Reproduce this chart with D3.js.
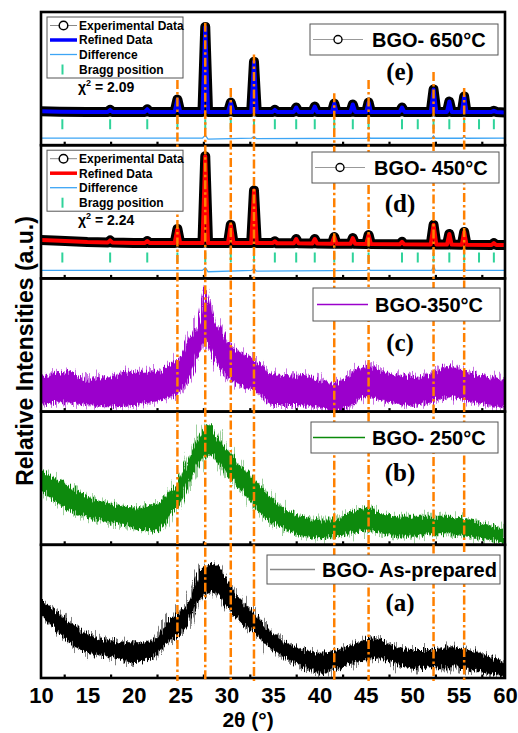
<!DOCTYPE html>
<html>
<head>
<meta charset="utf-8">
<script src="https://cdn.jsdelivr.net/npm/d3@7"></script>
<style>
    body { margin: 0; background: #fff; }
    svg { display: block; font-family: "Liberation Sans", Arial, sans-serif; }
</style>
</head>
<body>
<div id="chart"></div>
<script>
// ---- data ----
const majorTicks = [10, 15, 20, 25, 30, 35, 40, 45, 50, 55, 60];
const minorTicks = [12.5, 17.5, 22.5, 27.5, 32.5, 37.5, 42.5, 47.5, 52.5, 57.5];

// reference (dash-dot) lines and where they start in the top panel
const refLines = [24.7, 27.7, 30.45, 32.95, 41.6, 45.3, 52.3, 55.6];
const refLineTop = [49, 92, 43, 68, 39, 49, 55, 43];

// Bragg positions
const braggPos = [12.3, 17.45, 21.45, 24.7, 27.7, 30.45, 32.95, 35.2, 37.5, 39.5, 41.6,
    43.6, 45.3, 48.9, 50.6, 52.3, 54.0, 55.6, 57.2, 58.8];

// Rietveld profiles (650 and 450 C), intensity in a.u. (0-100 per panel)
const profileX = [10, 12, 15, 17.2, 17.45, 17.7, 20, 21.2, 21.45, 21.7, 24.4, 24.7, 25.0,
    27.4, 27.7, 28.0, 30.15, 30.45, 30.75, 32.65, 32.95, 33.25, 34.95, 35.2, 35.45,
    37.25, 37.5, 37.75, 39.25, 39.5, 39.75, 41.35, 41.6, 41.85, 43.35, 43.6, 43.85,
    45.05, 45.3, 45.55, 48.65, 48.9, 49.15, 52.0, 52.3, 52.6, 53.75, 54.0, 54.25,
    55.35, 55.6, 55.85, 58.55, 58.8, 59.05, 60];
const profile650 = [25.5, 25.2, 25, 25, 26.5, 25, 25, 25, 27, 25, 25, 34.3, 25,
    25, 88.8, 25, 25, 32, 25, 25, 62.7, 25, 25, 26.5, 25,
    25, 28.3, 25, 25, 29, 25, 25, 31.3, 25, 25, 30.6, 25,
    25, 32.1, 25, 25, 28.3, 25, 25, 41.8, 25, 25, 32.8, 25,
    25, 36.6, 25, 25, 25.8, 25, 24.6];
const profile450 = [28.8, 28.2, 27.3, 27, 28.5, 27, 26.5, 26.5, 28, 26.5, 26.5, 37.1, 26.5,
    26.5, 91.7, 26.5, 26.5, 40.2, 26.5, 26.5, 66, 26.5, 26.5, 27.8, 26.3,
    26.3, 29.6, 26.3, 26.2, 29.6, 26.2, 26, 31.1, 26, 26, 30.3, 26,
    25.8, 32.6, 25.8, 25.6, 27.5, 25.6, 25.5, 40.2, 25.5, 25.4, 33.4, 25.4,
    25.3, 34.9, 25.3, 25.1, 26.5, 25.1, 25];

const diffX = [10, 27.4, 27.7, 28.0, 32.7, 32.95, 33.2, 45.1, 45.3, 45.5, 52.1, 52.3, 52.5,
    55.4, 55.6, 55.8, 60];
const diff650 = [5.3, 5.3, 7.5, 4.5, 5.3, 6.5, 5, 5.2, 6.3, 5.2, 5.2, 7, 5.2, 5.2, 6.5, 5.2, 5.3];
const diff450 = [6, 6, 8, 5, 6, 7.5, 5.5, 6, 7, 6, 6, 9, 6, 6, 7, 6, 6];

// amorphous patterns: lower / upper edge of the noisy trace
const x350 = [10, 12.5, 15, 17.5, 20, 22.5, 24, 25, 26, 27, 27.7, 28.5, 29.5, 30.5, 32, 33,
    35, 37.5, 40, 41.5, 43, 45, 47, 50, 52, 54, 56, 58, 60];
const hi350 = [26, 30, 24, 26, 30, 30, 36, 41, 56, 69, 93, 72, 60, 49, 43, 39,
    28, 27, 24, 21, 26, 34, 30, 26, 28, 34, 30, 26, 24];
const lo350 = [5, 7, 5, 4, 5, 8, 11, 15, 26, 43, 53, 41, 31, 24, 18, 16,
    5, 5, 3, 1, 3, 11, 8, 5, 7, 11, 8, 5, 3];

const x250 = [10, 12.5, 15, 17.5, 20, 22.5, 24, 25, 26, 27, 28.3, 29, 30.5, 32, 33, 35, 36,
    37.5, 40, 41.5, 43, 45.5, 47, 50, 52, 54, 56, 58, 60];
const hi250 = [56, 46, 36, 31, 28, 31, 41, 49, 66, 81, 90, 81, 68, 56, 49, 34, 28,
    23, 19, 19, 23, 28, 23, 21, 21, 21, 19, 15, 11];
const lo250 = [41, 28, 21, 17, 13, 10, 23, 31, 46, 60, 68, 63, 49, 38, 28, 16, 13,
    8, 5, 6, 8, 11, 8, 6, 8, 8, 6, 4, 1];

const xAsPrep = [10, 12, 15, 17.5, 20, 22, 23.5, 25, 26, 27, 28.7, 30, 31, 33, 35, 37.5, 40,
    42, 44, 46, 48, 50, 52, 54, 56, 58, 60];
const hiAsPrep = [59, 48, 33, 28, 26, 28, 41, 50, 58, 78, 86, 74, 63, 48, 33, 23, 19,
    21, 26, 30, 24, 21, 21, 23, 21, 17, 11];
const loAsPrep = [47, 33, 19, 16, 12, 15, 26, 33, 43, 58, 65, 53, 46, 33, 21, 11, 4,
    7, 12, 15, 11, 7, 8, 8, 7, 4, 1];

const sampleNames = ["BGO- 650°C", "BGO- 450°C", "BGO-350°C", "BGO- 250°C", "BGO- As-prepared"];
const panelTags = ["(e)", "(d)", "(c)", "(b)", "(a)"];
const chi2 = ["2.09", "2.24"];

// ---- layout ----
const WIDTH = 518, HEIGHT = 733;
const PANEL_TOP = 12, PANEL_H = 133.2;
const FONT = "'Liberation Sans', Arial, sans-serif";
const SERIF = "'Liberation Serif', 'Times New Roman', serif";
const ORANGE = "#ff8000";

const svg = d3.select("#chart").append("svg")
    .attr("width", WIDTH)
    .attr("height", HEIGHT);

const x = d3.scaleLinear().domain([10, 60]).range([41, 505]);

function yScale(i) {
    return d3.scaleLinear().domain([0, 100])
        .range([PANEL_TOP + (i + 1) * PANEL_H, PANEL_TOP + i * PANEL_H]);
}

// texture so the filled traces look like noisy counts
const defs = svg.append("defs");
[["fuzz", 30, 0.9], ["grain", 14, 1.1]].forEach(function (f) {
    let filter = defs.append("filter")
        .attr("id", f[0])
        .attr("x", "-3%").attr("y", "-30%")
        .attr("width", "106%").attr("height", "160%");
    filter.append("feTurbulence")
        .attr("type", "fractalNoise")
        .attr("baseFrequency", f[2] + " 0.02")
        .attr("numOctaves", 1)
        .attr("seed", 4)
        .attr("result", "t");
    filter.append("feDisplacementMap")
        .attr("in", "SourceGraphic")
        .attr("in2", "t")
        .attr("scale", f[1])
        .attr("xChannelSelector", "B")
        .attr("yChannelSelector", "R");
});

panelTags.forEach(function (tag, i) {
    let y = yScale(i);
    defs.append("clipPath")
        .attr("id", "clip" + i)
        .append("rect")
        .attr("x", x(10)).attr("y", y(100))
        .attr("width", x(60) - x(10)).attr("height", y(0) - y(100));
});

// ---- Rietveld panels (e) and (d) ----
const rietveld = [
    {i: 0, prof: profile650, diff: diff650, color: "#0000ff"},
    {i: 1, prof: profile450, diff: diff450, color: "#ff0000"}
];

rietveld.forEach(function (p) {
    let y = yScale(p.i);
    let g = svg.append("g").attr("clip-path", "url(#clip" + p.i + ")");
    let pts = profileX.map((v, k) => [v, p.prof[k]]);
    let line = d3.line().x(d => x(d[0])).y(d => y(d[1]));

    // difference
    g.append("path")
        .datum(diffX.map((v, k) => [v, p.diff[k]]))
        .attr("fill", "none")
        .attr("stroke", "#3da5f5")
        .attr("stroke-width", 1.3)
        .attr("d", line);

    // bragg ticks
    g.selectAll(null)
        .data(braggPos)
        .enter()
        .append("line")
        .attr("x1", d => x(d)).attr("x2", d => x(d))
        .attr("y1", y(12)).attr("y2", y(19.5))
        .attr("stroke", "#2fd39a")
        .attr("stroke-width", 2);

    // experimental (open circles, dense -> thick black band)
    g.append("path")
        .datum(pts)
        .attr("fill", "none")
        .attr("stroke", "#000")
        .attr("stroke-width", 10)
        .attr("stroke-linejoin", "round")
        .attr("stroke-linecap", "round")
        .attr("d", line);

    // refined
    g.append("path")
        .datum(pts)
        .attr("fill", "none")
        .attr("stroke", p.color)
        .attr("stroke-width", 4)
        .attr("stroke-linejoin", "round")
        .attr("d", line);
});

// ---- amorphous panels (c), (b), (a) ----
const amorphous = [
    {i: 2, xs: x350, lo: lo350, hi: hi350, color: "#9b00cc", fuzz: 0.55},
    {i: 3, xs: x250, lo: lo250, hi: hi250, color: "#0a8a0a", fuzz: 0.4},
    {i: 4, xs: xAsPrep, lo: loAsPrep, hi: hiAsPrep, color: "#000000", fuzz: 0.5}
];

amorphous.forEach(function (p) {
    let y = yScale(p.i);
    let g = svg.append("g").attr("clip-path", "url(#clip" + p.i + ")");
    let area = d3.area()
        .x(d => x(d.x))
        .y0(d => y(d.lo))
        .y1(d => y(d.hi))
        .curve(d3.curveMonotoneX);
    let pts = p.xs.map((v, k) => ({x: v, lo: p.lo[k], hi: p.hi[k]}));
    g.append("path")
        .datum(pts)
        .attr("fill", p.color)
        .attr("opacity", p.fuzz)
        .attr("filter", "url(#fuzz)")
        .attr("d", area);
    g.append("path")
        .datum(pts)
        .attr("fill", p.color)
        .attr("filter", "url(#grain)")
        .attr("d", area);
});

// ---- frames and ticks ----
panelTags.forEach(function (tag, i) {
    let y = yScale(i);
    let g = svg.append("g").attr("transform", "translate(0," + y(0) + ")");
    g.call(d3.axisBottom(x).tickValues(majorTicks).tickSize(-7).tickFormat(""));
    g.call(d3.axisBottom(x).tickValues(minorTicks).tickSize(-3.5).tickFormat(""));
    g.selectAll(".domain").remove();
    g.selectAll(".tick line").attr("stroke", "#000").attr("stroke-width", 2.2);

    svg.append("rect")
        .attr("x", x(10))
        .attr("y", y(100))
        .attr("width", x(60) - x(10))
        .attr("height", y(0) - y(100))
        .attr("fill", "none")
        .attr("stroke", "#000")
        .attr("stroke-width", 2.6);
});

// tick labels on the bottom panel
let labelAxis = svg.append("g")
    .attr("transform", "translate(0," + yScale(4)(0) + ")")
    .call(d3.axisBottom(x).tickValues(majorTicks).tickSize(0).tickPadding(9));
labelAxis.select(".domain").remove();
labelAxis.selectAll("text")
    .style("font-family", FONT)
    .style("font-size", "22px")
    .style("font-weight", "bold")
    .attr("fill", "#000");

// ---- reference lines ----
const yTop = yScale(0);
svg.selectAll(null)
    .data(refLines)
    .enter()
    .append("line")
    .attr("x1", d => x(d)).attr("x2", d => x(d))
    .attr("y1", (d, k) => yTop(refLineTop[k]))
    .attr("y2", yScale(4)(0) + 3)
    .attr("stroke", ORANGE)
    .attr("stroke-width", 2.5)
    .attr("stroke-dasharray", "9,3,2.5,3");

// ---- axis titles ----
svg.append("text")
    .attr("x", 248)
    .attr("y", 727)
    .attr("text-anchor", "middle")
    .style("font-family", FONT)
    .style("font-size", "21px")
    .style("font-weight", "bold")
    .text("2θ (°)");

svg.append("text")
    .attr("transform", "translate(33,351) rotate(-90)")
    .attr("text-anchor", "middle")
    .style("font-family", FONT)
    .style("font-size", "23px")
    .style("font-weight", "bold")
    .text("Relative Intensities (a.u.)");

// ---- left legends for Rietveld panels ----
rietveld.forEach(function (p, k) {
    let top = PANEL_TOP + p.i * PANEL_H;
    let g = svg.append("g").attr("transform", "translate(0," + top + ")");
    g.append("rect")
        .attr("x", 47).attr("y", 5).attr("width", 136).attr("height", 61)
        .attr("fill", "#fff").attr("stroke", "#555").attr("stroke-width", 1);
    let rows = [13.5, 28, 42.5, 57.5];
    g.append("line").attr("x1", 50).attr("x2", 77).attr("y1", rows[0]).attr("y2", rows[0])
        .attr("stroke", "#888").attr("stroke-width", 1);
    g.append("circle").attr("cx", 63.5).attr("cy", rows[0]).attr("r", 4.3)
        .attr("fill", "#fff").attr("stroke", "#000").attr("stroke-width", 1.5);
    g.append("line").attr("x1", 50).attr("x2", 77).attr("y1", rows[1]).attr("y2", rows[1])
        .attr("stroke", p.color).attr("stroke-width", 3.5);
    g.append("line").attr("x1", 50).attr("x2", 77).attr("y1", rows[2]).attr("y2", rows[2])
        .attr("stroke", "#3da5f5").attr("stroke-width", 1.3);
    g.append("line").attr("x1", 62.5).attr("x2", 62.5).attr("y1", rows[3] - 5).attr("y2", rows[3] + 5)
        .attr("stroke", "#2fd39a").attr("stroke-width", 2);
    let labels = ["Experimental Data", "Refined Data", "Difference", "Bragg position"];
    labels.forEach(function (t, r) {
        g.append("text")
            .attr("x", 79).attr("y", rows[r]).attr("dy", "0.36em")
            .style("font-family", FONT).style("font-size", "12px").style("font-weight", "bold")
            .text(t);
    });
    let chi = g.append("text")
        .attr("x", 78).attr("y", 79.5)
        .style("font-family", FONT).style("font-size", "14px").style("font-weight", "bold");
    chi.append("tspan").text("χ");
    chi.append("tspan").attr("dy", -6).style("font-size", "9px").text("2");
    chi.append("tspan").attr("dy", 6).text(" = " + chi2[k]);
});

// ---- sample legends and panel tags ----
const legendBox = [
    {x: 310, y: 24, w: 188, h: 31, lx1: 313, lx2: 363, tx: 372},
    {x: 312, y: 152, w: 187, h: 31, lx1: 315, lx2: 365, tx: 374},
    {x: 313, y: 288, w: 187, h: 33, lx1: 317, lx2: 368, tx: 375},
    {x: 311, y: 422, w: 187, h: 31, lx1: 313, lx2: 365, tx: 372},
    {x: 267, y: 555, w: 233, h: 29, lx1: 270, lx2: 315, tx: 322}
];
const legendColor = ["#999", "#999", "#9b00cc", "#0a8a0a", "#888"];
const tagBaseline = [80, 212, 351, 481, 611];

sampleNames.forEach(function (name, i) {
    let b = legendBox[i];
    let cy = b.y + b.h / 2;
    svg.append("rect")
        .attr("x", b.x).attr("y", b.y).attr("width", b.w).attr("height", b.h)
        .attr("fill", "#fff").attr("stroke", "#555").attr("stroke-width", 1);
    svg.append("line")
        .attr("x1", b.lx1).attr("x2", b.lx2).attr("y1", cy).attr("y2", cy)
        .attr("stroke", legendColor[i]).attr("stroke-width", i < 2 ? 1 : 1.4);
    if (i < 2) {
        svg.append("circle")
            .attr("cx", (b.lx1 + b.lx2) / 2).attr("cy", cy).attr("r", 4)
            .attr("fill", "#fff").attr("stroke", "#000").attr("stroke-width", 1.4);
    }
    svg.append("text")
        .attr("x", b.tx).attr("y", cy).attr("dy", "0.36em")
        .style("font-family", FONT).style("font-size", "20px").style("font-weight", "bold")
        .text(name);

    svg.append("text")
        .attr("x", 400).attr("y", tagBaseline[i])
        .attr("text-anchor", "middle")
        .style("font-family", SERIF).style("font-size", "25px").style("font-weight", "bold")
        .text(panelTags[i]);
});
</script>
</body>
</html>
